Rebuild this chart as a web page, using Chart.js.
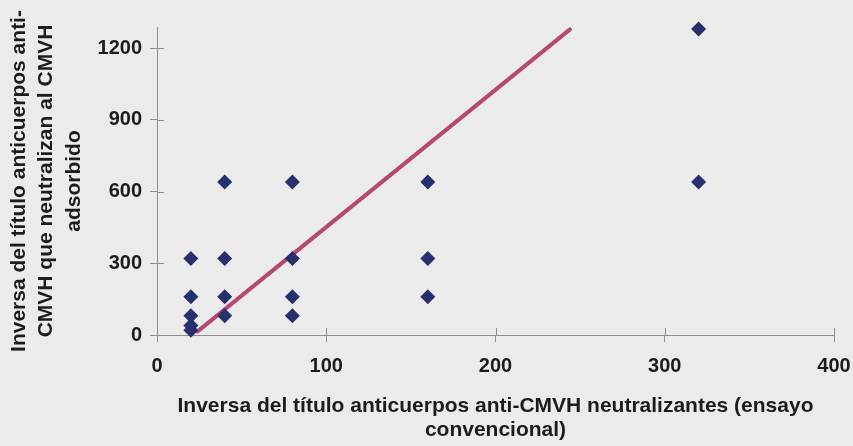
<!DOCTYPE html>
<html>
<head>
<meta charset="utf-8">
<script src="https://cdn.jsdelivr.net/npm/chart.js@4"></script>
<style>
    html, body { margin: 0; padding: 0; background: #ebebeb; }
    #wrap { width: 853px; height: 446px; }
</style>
</head>
<body>
<div id="wrap"><canvas id="titreChart"></canvas></div>
<script>
// Titles (ensayo convencional vs. CMVH adsorbido)
const titreConv = [20, 20, 20, 20, 20, 40, 40, 40, 40, 80, 80, 80, 80, 160, 160, 160, 320, 320];
const titreAds = [320, 160, 80, 40, 20, 640, 320, 160, 80, 640, 320, 160, 80, 640, 320, 160, 1280, 640];

// trend line end points
const trendX = [24, 244];
const trendY = [15, 1278];

const xTicks = [0, 100, 200, 300, 400];
const yTicks = [0, 300, 600, 900, 1200];

const xTitle = ['Inversa del título anticuerpos anti-CMVH neutralizantes (ensayo', 'convencional)'];
const yTitle = ['Inversa del título anticuerpos anti-', 'CMVH que neutralizan al CMVH', 'adsorbido'];

const axisGrey = '#8e8e8e';
const textColor = '#1c1c1c';
const fontFamily = '"Liberation Sans", Arial, sans-serif';

// draws the half of each tick mark that sits inside the plot
const innerTicks = {
    id: 'innerTicks',
    afterDraw(chart) {
        const { ctx, scales: { x, y } } = chart;
        ctx.save();
        ctx.strokeStyle = axisGrey;
        ctx.lineWidth = 1;
        ctx.beginPath();
        x.ticks.forEach(t => {
            const px = Math.round(x.getPixelForValue(t.value)) + 0.5;
            ctx.moveTo(px, y.bottom);
            ctx.lineTo(px, y.bottom - 7);
        });
        y.ticks.forEach(t => {
            const py = Math.round(y.getPixelForValue(t.value)) + 0.5;
            ctx.moveTo(x.left, py);
            ctx.lineTo(x.left + 7, py);
        });
        ctx.stroke();
        ctx.restore();
    }
};

const ctx = document.getElementById('titreChart');
new Chart(ctx.getContext('2d'), {
    type: 'scatter',
    data: {
        datasets: [
            {
                label: 'Títulos',
                data: titreConv.map((v, i) => ({ x: v, y: titreAds[i] })),
                pointStyle: 'rectRot',
                pointRadius: 7.5,
                pointHoverRadius: 7.5,
                backgroundColor: '#26306e',
                borderColor: '#26306e',
                borderWidth: 0,
                clip: false,
                order: 1
            },
            {
                type: 'line',
                label: 'Tendencia',
                data: trendX.map((v, i) => ({ x: v, y: trendY[i] })),
                borderColor: '#b54a6e',
                borderWidth: 4,
                borderCapStyle: 'round',
                pointRadius: 0,
                fill: false,
                clip: false,
                order: 2
            }
        ]
    },
    options: {
        responsive: true,
        maintainAspectRatio: false,
        animation: false,
        events: [],
        layout: { padding: { top: 27, right: 19, bottom: 0, left: 0 } },
        plugins: { legend: { display: false }, tooltip: { enabled: false } },
        scales: {
            x: {
                type: 'linear',
                min: 0,
                max: 400,
                afterBuildTicks: scale => { scale.ticks = xTicks.map(v => ({ value: v })); },
                afterFit: scale => {
                    scale.height = 111;
                    scale.paddingLeft = 0;
                    scale.paddingRight = 0;
                },
                border: { display: true, color: axisGrey, width: 1 },
                grid: { drawOnChartArea: false, drawTicks: true, tickLength: 7, color: axisGrey },
                ticks: {
                    color: textColor,
                    padding: 12,
                    maxRotation: 0,
                    callback: v => String(v),
                    font: { family: fontFamily, size: 20, weight: 'bold' }
                },
                title: {
                    display: true,
                    text: xTitle,
                    color: textColor,
                    padding: { top: 0, bottom: 4 },
                    font: { family: fontFamily, size: 21, weight: 'bold', lineHeight: 1.14 }
                }
            },
            y: {
                type: 'linear',
                min: 0,
                max: 1288,
                afterBuildTicks: scale => { scale.ticks = yTicks.map(v => ({ value: v })); },
                afterFit: scale => {
                    scale.width = 157;
                    scale.paddingTop = 0;
                    scale.paddingBottom = 0;
                },
                border: { display: true, color: axisGrey, width: 1 },
                grid: { drawOnChartArea: false, drawTicks: true, tickLength: 7, color: axisGrey },
                ticks: {
                    color: textColor,
                    padding: 8,
                    callback: v => String(v),
                    font: { family: fontFamily, size: 20, weight: 'bold' }
                },
                title: {
                    display: true,
                    text: yTitle,
                    color: textColor,
                    padding: { top: 6, bottom: 0 },
                    font: { family: fontFamily, size: 21, weight: 'bold', lineHeight: 1.29 }
                }
            }
        }
    },
    plugins: [innerTicks]
});
</script>
</body>
</html>
